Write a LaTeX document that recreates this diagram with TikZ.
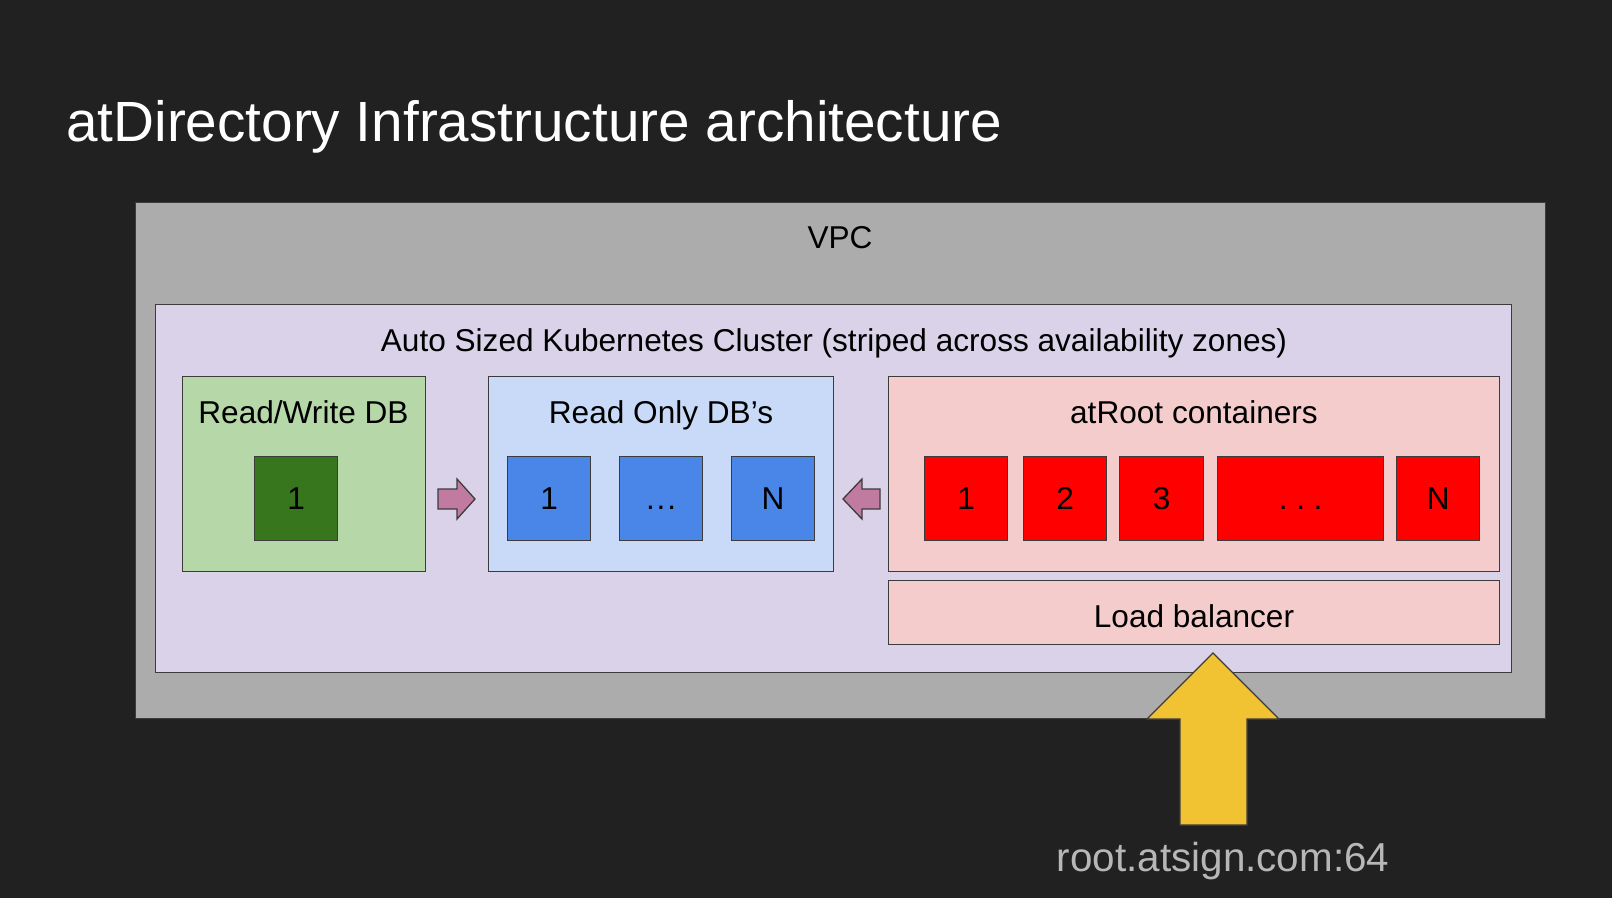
\documentclass[tikz,border=0pt]{standalone}
\usepackage{fontspec}
\setmainfont{Liberation Sans}
\definecolor{bg}{HTML}{212121}
\definecolor{bcol}{HTML}{3C3C3C}
\definecolor{vpccol}{HTML}{ACACAC}
\definecolor{clustcol}{HTML}{D9D2E9}
\definecolor{lgreen}{HTML}{B6D7A8}
\definecolor{dgreen}{HTML}{38761D}
\definecolor{lblue}{HTML}{C9DAF8}
\definecolor{dblue}{HTML}{4A86E8}
\definecolor{lpink}{HTML}{F4CCCC}
\definecolor{dred}{HTML}{FF0000}
\definecolor{arrcol}{HTML}{C27BA0}
\definecolor{yel}{HTML}{F1C232}
\definecolor{urlcol}{HTML}{B7B7B7}
\begin{document}
\begin{tikzpicture}[x=1pt,y=-1pt,
  box/.style={draw=bcol, line width=1.3pt, inner sep=0pt, anchor=north west},
  lbl/.style={font=\fontsize{31.6}{36}\selectfont, text=black, inner sep=0pt, anchor=base},
  num/.style={box, font=\fontsize{31.6}{36}\selectfont, text=black, minimum height=84pt, text height=22.6pt, text depth=0pt},
  blockarrow/.style={draw=bcol, line width=1.3pt, line join=miter}
]
\fill[bg] (0,0) rectangle (1612,898);
\useasboundingbox (0,0) rectangle (1612,898);

\node[anchor=base west, text=white, font=\fontsize{56.7}{64}\selectfont, inner sep=0pt] (title) at (66,141) {atDirectory Infrastructure architecture};

\node[box, fill=vpccol, minimum width=1410pt, minimum height=516pt] (vpc) at (135,202) {};
\node[lbl] (vpclbl) at (840,248) {VPC};

\node[box, fill=clustcol, minimum width=1356pt, minimum height=368pt] (cluster) at (155,304) {};
\node[lbl] (clustlbl) at (834,351) {Auto Sized Kubernetes Cluster (striped across availability zones)};

% Read/Write DB
\node[box, fill=lgreen, minimum width=243pt, minimum height=195pt] (rw) at (182,376) {};
\node[lbl] (rwlbl) at (303.5,423) {Read/Write DB};
\node[num, fill=dgreen, minimum width=83pt] (g1) at (254,456) {1};

% Read only DBs
\node[box, fill=lblue, minimum width=345pt, minimum height=195pt] (ro) at (488,376) {};
\node[lbl] (rolbl) at (661,423) {Read Only DB’s};
\node[num, fill=dblue, minimum width=83pt] (b1) at (507,456) {1};
\node[num, fill=dblue, minimum width=83pt] (b2) at (619,456) {.\kern1.8pt.\kern1.8pt.};
\node[num, fill=dblue, minimum width=83pt] (b3) at (731,456) {N};

% atRoot containers
\node[box, fill=lpink, minimum width=611pt, minimum height=195pt] (atr) at (888,376) {};
\node[lbl] (atrlbl) at (1194,423) {atRoot containers};
\node[num, fill=dred, minimum width=83pt] (r1) at (924,456) {1};
\node[num, fill=dred, minimum width=83pt] (r2) at (1023,456) {2};
\node[num, fill=dred, minimum width=84pt] (r3) at (1119,456) {3};
\node[num, fill=dred, minimum width=166pt] (r4) at (1217,456) {.\kern8.6pt.\kern8.6pt.};
\node[num, fill=dred, minimum width=83pt] (r5) at (1396,456) {N};

% Load balancer
\node[box, fill=lpink, minimum width=611pt, minimum height=64pt] (lb) at (888,580) {};
\node[lbl] (lblbl) at (1194,627) {Load balancer};

% block arrows
\draw[blockarrow, fill=arrcol] (438,489) -- (457,489) -- (457,479) -- (475,499) -- (457,519) -- (457,509) -- (438,509) -- cycle;
\draw[blockarrow, fill=arrcol] (880,489) -- (862,489) -- (862,479) -- (843,499) -- (862,519) -- (862,509) -- (880,509) -- cycle;
\draw[blockarrow, fill=yel] (1180,825) -- (1180,719) -- (1147,719) -- (1213,653) -- (1279,719) -- (1247,719) -- (1247,825) -- cycle;

\node[anchor=base, text=urlcol, font=\fontsize{40.4}{46}\selectfont, inner sep=0pt] (url) at (1223,871) {root.atsign.com:64};
\end{tikzpicture}
\end{document}
